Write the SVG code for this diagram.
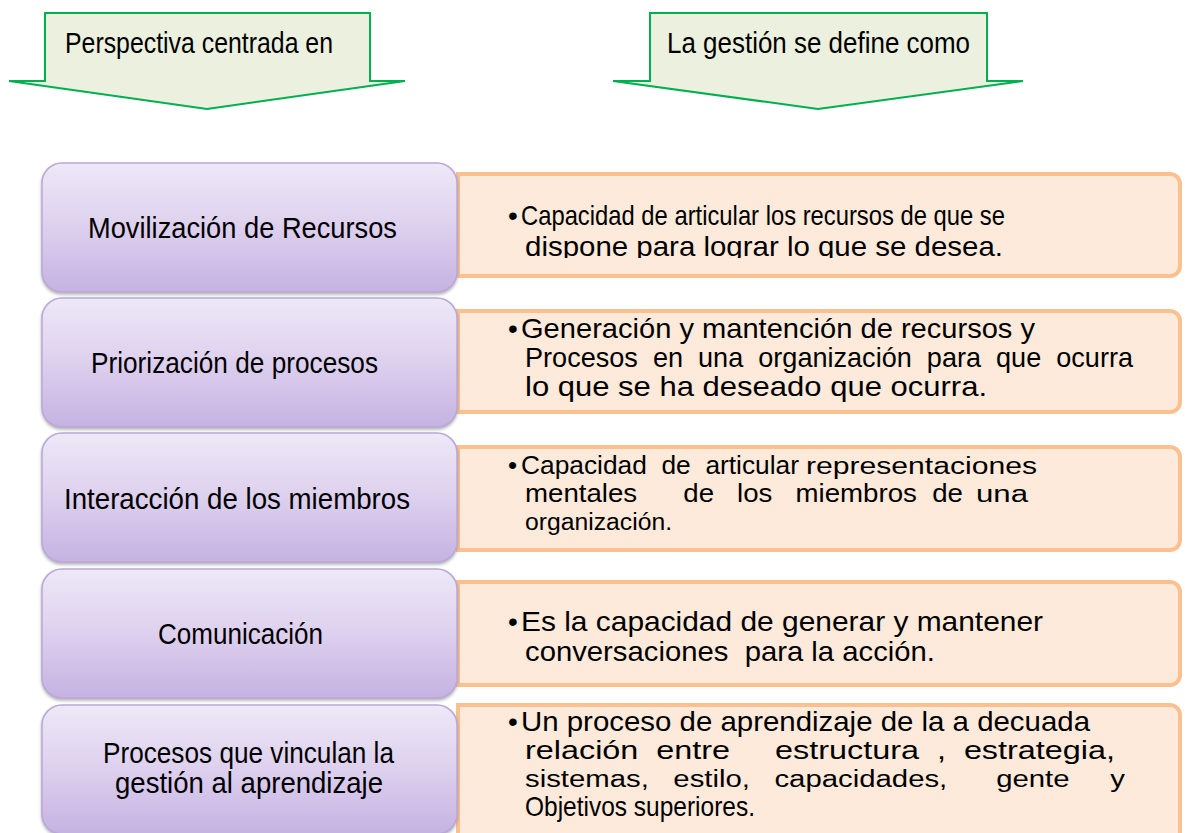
<svg xmlns="http://www.w3.org/2000/svg" width="1185" height="833" viewBox="0 0 1185 833">
<defs>
<linearGradient id="pg" x1="0" y1="0" x2="0" y2="1">
<stop offset="0" stop-color="#EEE8F7"/>
<stop offset="0.5" stop-color="#DDD0EE"/>
<stop offset="1" stop-color="#C5B2E2"/>
</linearGradient>
<filter id="sh" x="-5%" y="-5%" width="110%" height="115%">
<feDropShadow dx="0" dy="2" stdDeviation="1.5" flood-color="#777" flood-opacity="0.55"/>
</filter>
<clipPath id="c1"><rect x="440" y="150" width="740" height="108"/></clipPath>
</defs>
<style>
.arr{fill:#EBF1DE;stroke:#00B050;stroke-width:2;stroke-linejoin:miter}
.pb{fill:url(#pg);stroke:#B9A8D8;stroke-width:1.5;filter:url(#sh)}
.ob{fill:#FDEADA;stroke:#FAC090;stroke-width:4}
.t{font-family:"Liberation Sans",Arial,sans-serif;fill:#000}
.hd{font-size:29px}
.pl{font-size:29px}
.ol{font-size:28px}
.o3{font-size:26px}
.md{font-size:26px}
.sm{font-size:23px}
.pre{white-space:pre}
</style>

<g id="arrow-left">
<polygon class="arr" points="45,13 370,13 370,81 405,81 207,109 9,81 45,81"/>
<text class="t hd" x="65" y="53" textLength="268" lengthAdjust="spacingAndGlyphs">Perspectiva centrada en</text>
</g>
<g id="arrow-right">
<polygon class="arr" points="650,13 987,13 987,81 1023,81 818,109 613,81 650,81"/>
<text class="t hd" x="667" y="53" textLength="303" lengthAdjust="spacingAndGlyphs">La gestión se define como</text>
</g>

<g id="connectors"></g>

<g id="def1">
<path class="ob" d="M458,174 H1170 A10,10 0 0 1 1180,184 V266 A10,10 0 0 1 1170,276 H458 Z"/>
<text class="t ol" x="508" y="225">•</text>
<text class="t ol" x="521" y="225" textLength="484" lengthAdjust="spacingAndGlyphs">Capacidad de articular los recursos de que se</text>
<g clip-path="url(#c1)"><text class="t ol" x="525" y="256" textLength="478" lengthAdjust="spacingAndGlyphs">dispone para lograr lo que se desea.</text></g>
</g>
<g id="def2">
<path class="ob" d="M458,311 H1170 A10,10 0 0 1 1180,321 V402 A10,10 0 0 1 1170,412 H458 Z"/>
<text class="t ol" x="508" y="338">•</text>
<text class="t ol" x="521" y="338" textLength="514" lengthAdjust="spacingAndGlyphs">Generación y mantención de recursos y</text>
<text class="t ol pre" x="525" y="367" textLength="608" lengthAdjust="spacingAndGlyphs">Procesos  en  una  organización  para  que  ocurra</text>
<text class="t ol" x="525" y="396" textLength="462" lengthAdjust="spacingAndGlyphs">lo que se ha deseado que ocurra.</text>
</g>
<g id="def3">
<path class="ob" d="M458,447 H1170 A10,10 0 0 1 1180,457 V540 A10,10 0 0 1 1170,550 H458 Z"/>
<text class="t o3" x="508" y="474">•</text>
<text class="t o3 pre" x="521" y="474" textLength="278" lengthAdjust="spacingAndGlyphs">Capacidad  de  articular</text>
<text class="t sm" x="806" y="474" textLength="231" lengthAdjust="spacingAndGlyphs">representaciones</text>
<text class="t o3 pre" x="525" y="502" textLength="438" lengthAdjust="spacingAndGlyphs">mentales      de   los   miembros  de</text>
<text class="t sm" x="976" y="502" textLength="52" lengthAdjust="spacingAndGlyphs">una</text>
<text class="t sm" x="525" y="530" textLength="147" lengthAdjust="spacingAndGlyphs">organización.</text>
</g>
<g id="def4">
<path class="ob" d="M458,582 H1170 A10,10 0 0 1 1180,592 V675 A10,10 0 0 1 1170,685 H458 Z"/>
<text class="t ol" x="508" y="631">•</text>
<text class="t ol" x="521" y="631" textLength="522" lengthAdjust="spacingAndGlyphs">Es la capacidad de generar y mantener</text>
<text class="t ol pre" x="525" y="661" textLength="410" lengthAdjust="spacingAndGlyphs">conversaciones  para la acción.</text>
</g>
<g id="def5">
<path class="ob" d="M458,705 H1170 A10,10 0 0 1 1180,715 V850 H458 Z"/>
<text class="t ol" x="508" y="731">•</text>
<text class="t ol" x="521" y="731" textLength="569" lengthAdjust="spacingAndGlyphs">Un proceso de aprendizaje de la a decuada</text>
<text class="t md pre" x="525" y="759" textLength="590" lengthAdjust="spacingAndGlyphs">relación  entre     estructura  ,  estrategia,</text>
<text class="t sm pre" x="525" y="787" textLength="600" lengthAdjust="spacingAndGlyphs">sistemas,   estilo,   capacidades,      gente     y</text>
<text class="t ol" x="525" y="816" textLength="230" lengthAdjust="spacingAndGlyphs">Objetivos superiores.</text>
</g>

<g id="node1">
<rect class="pb" x="42" y="163" width="415" height="129" rx="20"/>
<text class="t pl" x="88" y="238" textLength="309" lengthAdjust="spacingAndGlyphs">Movilización de Recursos</text>
</g>
<g id="node2">
<rect class="pb" x="42" y="298" width="415" height="129" rx="20"/>
<text class="t pl" x="91" y="373" textLength="287" lengthAdjust="spacingAndGlyphs">Priorización de procesos</text>
</g>
<g id="node3">
<rect class="pb" x="42" y="433" width="415" height="129" rx="20"/>
<text class="t pl" x="64" y="509" textLength="346" lengthAdjust="spacingAndGlyphs">Interacción de los miembros</text>
</g>
<g id="node4">
<rect class="pb" x="42" y="569" width="415" height="129" rx="20"/>
<text class="t pl" x="158" y="644" textLength="165" lengthAdjust="spacingAndGlyphs">Comunicación</text>
</g>
<g id="node5">
<rect class="pb" x="42" y="705" width="415" height="129" rx="20"/>
<text class="t pl" x="103" y="763" textLength="291" lengthAdjust="spacingAndGlyphs">Procesos que vinculan la</text>
<text class="t pl" x="115" y="793" textLength="268" lengthAdjust="spacingAndGlyphs">gestión al aprendizaje</text>
</g>
</svg>
